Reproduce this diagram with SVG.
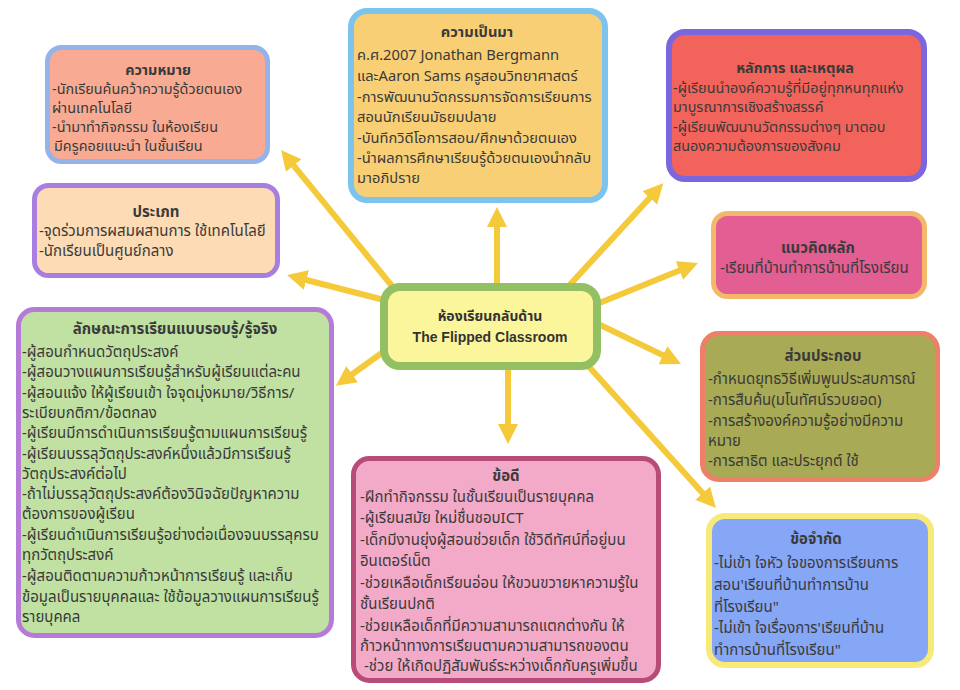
<svg xmlns="http://www.w3.org/2000/svg" width="960" height="690" viewBox="0 0 960 690">
<defs>
<marker id="ah" markerUnits="userSpaceOnUse" markerWidth="22" markerHeight="22" refX="6" refY="10" orient="auto">
<path d="M0,0 L20,10 L0,20 z" fill="#f4c93a"/>
</marker>
<style>
.t{font-family:"Noto Sans Thai","Noto Sans","DejaVu Sans",sans-serif;font-size:15px;fill:#3a3a3a}
.s{font-size:14.4px}
.m{font-size:14.7px}
.h{font-weight:bold;text-anchor:middle}
.c{font-family:"Liberation Sans","Noto Sans Thai","Noto Sans",sans-serif;font-size:14px;font-weight:bold;fill:#333;text-anchor:middle}
.ar{stroke:#f4c93a;stroke-width:6;fill:none;marker-end:url(#ah)}
</style>
</defs>
<rect width="960" height="690" fill="#ffffff"/>
<g id="connectors">
<line class="ar" x1="392" y1="286" x2="289.9" y2="160.9"/>
<line class="ar" x1="497" y1="290" x2="497" y2="221"/>
<line class="ar" x1="565" y1="290" x2="653.8" y2="193.5"/>
<line class="ar" x1="388" y1="301" x2="300.6" y2="278.5"/>
<line class="ar" x1="592" y1="306" x2="685" y2="268.3"/>
<line class="ar" x1="390" y1="347" x2="347.3" y2="377.7"/>
<line class="ar" x1="508" y1="362" x2="508" y2="430"/>
<line class="ar" x1="592" y1="321" x2="668.4" y2="357.9"/>
<line class="ar" x1="582" y1="359" x2="706.6" y2="497.6"/>
</g>
<g id="meaning">
<rect x="47.5" y="47.5" width="220" height="114" rx="14" fill="#f8ab92" stroke="#94b3ea" stroke-width="5"/>
<text class="t s h" x="158" y="75">ความหมาย</text>
<text class="t s" x="52" y="94">-นักเรียนค้นคว้าความรู้ด้วยตนเอง</text>
<text class="t s" x="52" y="113">ผ่านเทคโนโลยี</text>
<text class="t s" x="52" y="132">-นำมาทำกิจกรรม ในห้องเรียน</text>
<text class="t s" x="54" y="151">มีครูคอยแนะนำ ในชั้นเรียน</text>
</g>
<g id="history">
<rect x="351" y="11" width="254" height="189" rx="16" fill="#f9cf76" stroke="#7cc4ee" stroke-width="6"/>
<text class="t m h" x="477" y="37">ความเป็นมา</text>
<text class="t m" x="357" y="60">ค.ศ.2007 Jonathan Bergmann</text>
<text class="t m" x="357" y="81">และAaron Sams ครูสอนวิทยาศาสตร์</text>
<text class="t m" x="357" y="102">-การพัฒนานวัตกรรมการจัดการเรียนการ</text>
<text class="t m" x="357" y="122">สอนนักเรียนมัธยมปลาย</text>
<text class="t m" x="357" y="143">-บันทึกวิดีโอการสอน/ศึกษาด้วยตนเอง</text>
<text class="t m" x="357" y="163">-นำผลการศึกษาเรียนรู้ด้วยตนเองนำกลับ</text>
<text class="t m" x="357" y="183">มาอภิปราย</text>
</g>
<g id="principle">
<rect x="669" y="32" width="255" height="147" rx="16" fill="#f2635b" stroke="#7a67de" stroke-width="6"/>
<text class="t s h" x="795" y="73">หลักการ และเหตุผล</text>
<text class="t s" x="673" y="93">-ผู้เรียนนำองค์ความรู้ที่มีอยู่ทุกหนทุกแห่ง</text>
<text class="t s" x="673" y="112">มาบูรณาการเชิงสร้างสรรค์</text>
<text class="t s" x="673" y="132">-ผู้เรียนพัฒนานวัตกรรมต่างๆ มาตอบ</text>
<text class="t s" x="673" y="151">สนองความต้องการของสังคม</text>
</g>
<g id="type">
<rect x="34.5" y="185.5" width="243" height="90" rx="14" fill="#fddcb5" stroke="#a87ee0" stroke-width="5"/>
<text class="t h" x="156" y="217">ประเภท</text>
<text class="t" x="39" y="236">-จุดร่วมการผสมผสานการ ใช้เทคโนโลยี</text>
<text class="t" x="39" y="256">-นักเรียนเป็นศูนย์กลาง</text>
</g>
<g id="concept">
<rect x="713.5" y="213.5" width="211" height="83" rx="14" fill="#e25e93" stroke="#f4b86a" stroke-width="5"/>
<text class="t h" x="818" y="253">แนวคิดหลัก</text>
<text class="t" x="720" y="273">-เรียนที่บ้านทำการบ้านที่โรงเรียน</text>
</g>
<g id="center">
<rect x="384" y="287" width="213" height="79" rx="16" fill="#fbf59c" stroke="#92c062" stroke-width="8"/>
<text class="c" x="490" y="321">ห้องเรียนกลับด้าน</text>
<text class="c" x="490" y="342">The Flipped Classroom</text>
</g>
<g id="mastery">
<rect x="18.5" y="309.5" width="313" height="326" rx="16" fill="#c0e1a2" stroke="#b67bd8" stroke-width="5"/>
<text class="t h" x="175" y="334">ลักษณะการเรียนแบบรอบรู้/รู้จริง</text>
<text class="t" x="22" y="357">-ผู้สอนกำหนดวัตถุประสงค์</text>
<text class="t" x="22" y="377">-ผู้สอนวางแผนการเรียนรู้สำหรับผู้เรียนแต่ละคน</text>
<text class="t" x="22" y="398">-ผู้สอนแจ้ง ให้ผู้เรียนเข้า ใจจุดมุ่งหมาย/วิธีการ/</text>
<text class="t" x="22" y="418">ระเบียบกติกา/ข้อตกลง</text>
<text class="t" x="22" y="438">-ผู้เรียนมีการดำเนินการเรียนรู้ตามแผนการเรียนรู้</text>
<text class="t" x="22" y="459">-ผู้เรียนบรรลุวัตถุประสงค์หนึ่งแล้วมีการเรียนรู้</text>
<text class="t" x="22" y="479">วัตถุประสงค์ต่อไป</text>
<text class="t" x="22" y="499">-ถ้าไม่บรรลุวัตถุประสงค์ต้องวินิจฉัยปัญหาความ</text>
<text class="t" x="22" y="519">ต้องการของผู้เรียน</text>
<text class="t" x="22" y="540">-ผู้เรียนดำเนินการเรียนรู้อย่างต่อเนื่องจนบรรลุครบ</text>
<text class="t" x="22" y="560">ทุกวัตถุประสงค์</text>
<text class="t" x="22" y="581">-ผู้สอนติดตามความก้าวหน้าการเรียนรู้ และเก็บ</text>
<text class="t" x="22" y="602">ข้อมูลเป็นรายบุคคลและ ใช้ข้อมูลวางแผนการเรียนรู้</text>
<text class="t" x="22" y="622">รายบุคคล</text>
</g>
<g id="components">
<rect x="702.5" y="333.5" width="235" height="146" rx="16" fill="#a9aa55" stroke="#ee7f68" stroke-width="5"/>
<text class="t h" x="823" y="361">ส่วนประกอบ</text>
<text class="t" x="708" y="384">-กำหนดยุทธวิธีเพิ่มพูนประสบการณ์</text>
<text class="t" x="708" y="405">-การสืบค้น(มโนทัศน์รวบยอด)</text>
<text class="t" x="708" y="426">-การสร้างองค์ความรู้อย่างมีความ</text>
<text class="t" x="708" y="446">หมาย</text>
<text class="t" x="708" y="466">-การสาธิต และประยุกต์ ใช้</text>
</g>
<g id="advantages">
<rect x="353.5" y="458.5" width="305" height="222" rx="16" fill="#f3aac8" stroke="#b84c79" stroke-width="5"/>
<text class="t h" x="506" y="481">ข้อดี</text>
<text class="t" x="360" y="502">-ฝึกทำกิจกรรม ในชั้นเรียนเป็นรายบุคคล</text>
<text class="t" x="360" y="523">-ผู้เรียนสมัย ใหม่ชื่นชอบICT</text>
<text class="t" x="360" y="545">-เด็กมีงานยุ่งผู้สอนช่วยเด็ก ใช้วิดีทัศน์ที่อยู่บน</text>
<text class="t" x="360" y="566">อินเตอร์เน็ต</text>
<text class="t" x="360" y="588">-ช่วยเหลือเด็กเรียนอ่อน ให้ขวนขวายหาความรู้ใน</text>
<text class="t" x="360" y="609">ชั้นเรียนปกติ</text>
<text class="t" x="360" y="631">-ช่วยเหลือเด็กที่มีความสามารถแตกต่างกัน ให้</text>
<text class="t" x="360" y="651">ก้าวหน้าทางการเรียนตามความสามารถของตน</text>
<text class="t" x="364" y="671">-ช่วย ให้เกิดปฏิสัมพันธ์ระหว่างเด็กกับครูเพิ่มขึ้น</text>
</g>
<g id="limitations">
<rect x="709" y="516" width="222" height="149" rx="16" fill="#86a6f6" stroke="#f7ea78" stroke-width="6"/>
<text class="t h" x="816" y="544">ข้อจำกัด</text>
<text class="t" x="714" y="568">-ไม่เข้า ใจหัว ใจของการเรียนการ</text>
<text class="t" x="714" y="590">สอน'เรียนที่บ้านทำการบ้าน</text>
<text class="t" x="714" y="612">ที่โรงเรียน"</text>
<text class="t" x="714" y="633">-ไม่เข้า ใจเรื่องการ'เรียนที่บ้าน</text>
<text class="t" x="714" y="655">ทำการบ้านที่โรงเรียน"</text>
</g>
</svg>
